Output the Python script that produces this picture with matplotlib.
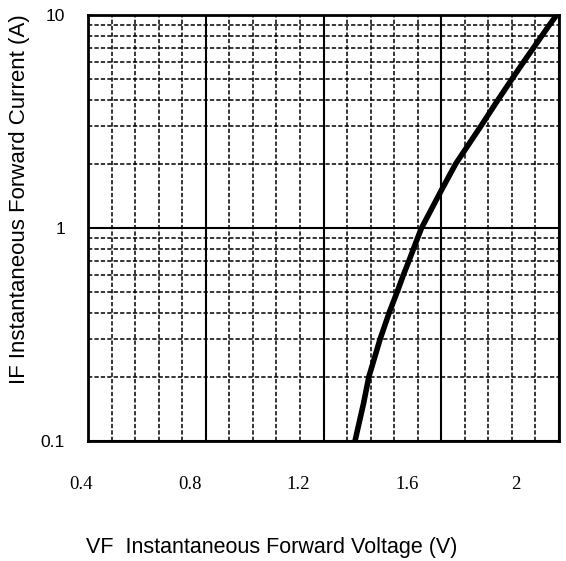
import numpy as np
import matplotlib.pyplot as plt
from matplotlib.ticker import FixedLocator, FixedFormatter, NullFormatter, NullLocator

plt.rcParams["font.family"] = ["Liberation Sans", "DejaVu Sans"]

# forward characteristic
i_f = [0.1, 0.15, 0.2, 0.3, 0.4, 0.5, 0.6, 0.7, 0.8, 0.9, 1.0,
       1.5, 2.0, 3.0, 4.0, 5.0, 6.0, 7.0, 8.0, 9.0, 10.0]
vf = [1.307, 1.336, 1.354, 1.392, 1.423, 1.450, 1.471, 1.490, 1.506, 1.520, 1.533,
      1.600, 1.649, 1.734, 1.793, 1.840, 1.879, 1.913, 1.942, 1.968, 1.992]

x_ticks = [0.4, 0.8, 1.2, 1.6, 2.0]
x_tick_labels = ["0.4", "0.8", "1.2", "1.6", "2"]
y_ticks = [0.1, 1, 10]
y_tick_labels = ["0.1", "1", "10"]

W, H = 566, 561
fig = plt.figure(figsize=(W / 100, H / 100), dpi=100)
ax = fig.add_axes([88 / W, (H - 441) / H, 471 / W, 426 / H])

ax.set_yscale("log")
ax.set_xlim(0.4, 2.0)
ax.set_ylim(0.1, 10)

# grid: solid majors, dashed minors
ax.xaxis.set_major_locator(FixedLocator(x_ticks))
ax.xaxis.set_minor_locator(FixedLocator(np.arange(0.48, 2.0, 0.08)))
ax.yaxis.set_major_locator(FixedLocator(y_ticks))
ax.yaxis.set_minor_locator(FixedLocator([m * d for d in (0.1, 1) for m in range(2, 10)]))
ax.yaxis.set_major_formatter(FixedFormatter(y_tick_labels))
ax.yaxis.set_minor_formatter(NullFormatter())
ax.xaxis.set_major_formatter(NullFormatter())
ax.grid(which="major", color="black", linewidth=1.5, linestyle="-")
ax.grid(which="minor", color="black", linewidth=1.1, linestyle=(0, (2.8, 1.4)))
ax.tick_params(which="both", length=0)
ax.tick_params(axis="y", pad=16.5, labelsize=12.5, labelfontfamily="Liberation Sans")

for s in ax.spines.values():
    s.set_linewidth(2)
    s.set_color("black")

ax.plot(vf, i_f, color="black", linewidth=4, solid_joinstyle="round", zorder=5)

# x tick labels sit on their own (slightly narrower) scale, as in the source
lab = fig.add_axes([81 / W, (H - 441) / H, 435 / W, 1e-4])
lab.set_xlim(0.4, 2.0)
lab.xaxis.set_major_locator(FixedLocator(x_ticks))
lab.xaxis.set_major_formatter(FixedFormatter(x_tick_labels))
lab.tick_params(axis="x", length=0, pad=25, labelsize=13.5, labelfontfamily="Liberation Serif")
lab.yaxis.set_major_locator(NullLocator())
for s in lab.spines.values():
    s.set_visible(False)
lab.patch.set_visible(False)

fig.text(271.5 / W, 1 - 547 / H, "VF  Instantaneous Forward Voltage (V)",
         ha="center", va="center", fontsize=15.5)
fig.text(20 / W, 1 - 199 / H, "IF Instantaneous Forward Current (A)",
         ha="center", va="center", rotation=90, fontsize=16)

fig.savefig("out.png", dpi=100)
